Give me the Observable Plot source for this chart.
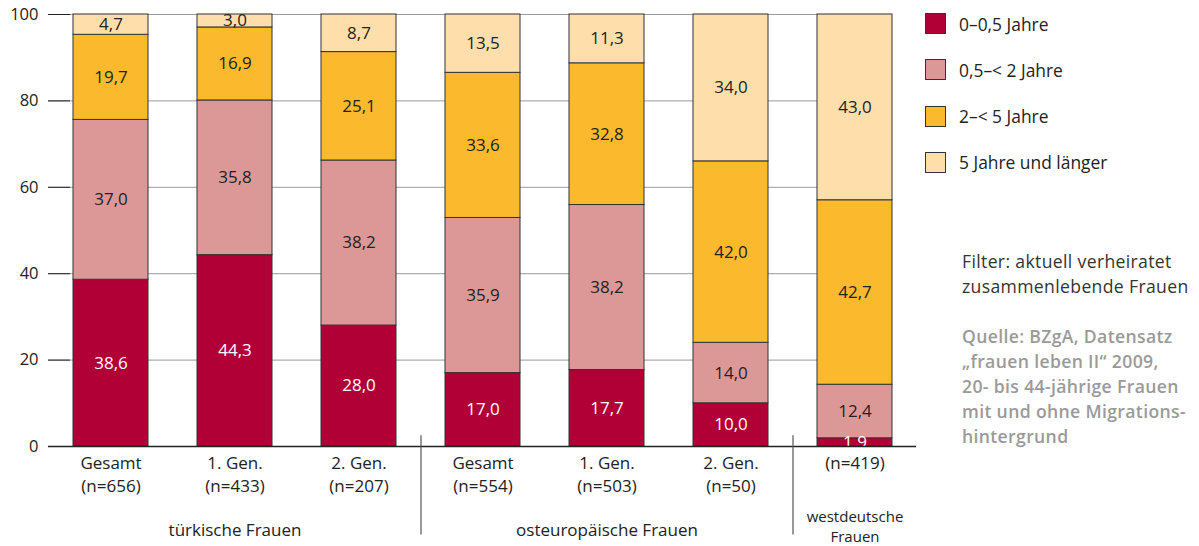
<!DOCTYPE html>
<html lang="de">
<head>
<meta charset="utf-8">
<script src="https://cdn.jsdelivr.net/npm/d3@7"></script>
<script src="https://cdn.jsdelivr.net/npm/@observablehq/plot@0.6"></script>
<style>
  body { margin: 0; background: #fff; font-family: "Open Sans", sans-serif; }
  #wrap { position: relative; width: 1199px; height: 546px; overflow: hidden; }
  #chart { position: absolute; left: 0; top: 0; }
  #legend { position: absolute; left: 925px; top: 12px; }
  .item { display: flex; align-items: center; height: 23px; margin-bottom: 23.3px; font-size: 17.4px; color: #222; white-space: nowrap; }
  .sw { width: 21px; height: 21px; border: 1px solid #333; margin-right: 13px; box-sizing: border-box; }
  #note { position: absolute; left: 962px; top: 249px; font-size: 17.6px; letter-spacing: 0.35px; line-height: 25px; color: #333; white-space: nowrap; }
  #note .src { color: #9a9a9a; font-weight: 600; margin-top: 25px; }
</style>
</head>
<body>
<div id="wrap">
  <div id="chart"></div>
  <div id="legend"></div>
  <div id="note"></div>
</div>
<script>
// Bars (x categories), one per subgroup
const groups = [
  "Gesamt\n(n=656)", "1. Gen.\n(n=433)", "2. Gen.\n(n=207)",
  "Gesamt\n(n=554)", "1. Gen.\n(n=503)", "2. Gen.\n(n=50)",
  "(n=419)"
];
// Duration classes, bottom to top of each stack
const durations = ["0–0,5 Jahre", "0,5–< 2 Jahre", "2–< 5 Jahre", "5 Jahre und länger"];
const colors = ["#b10036", "#dc9896", "#fbb92e", "#fedfab"];

// Shares in percent per duration class, in the order of groups
const share0to05 = [38.6, 44.3, 28.0, 17.0, 17.7, 10.0, 1.9];
const share05to2 = [37.0, 35.8, 38.2, 35.9, 38.2, 14.0, 12.4];
const share2to5  = [19.7, 16.9, 25.1, 33.6, 32.8, 42.0, 42.7];
const share5plus = [4.7, 3.0, 8.7, 13.5, 11.3, 34.0, 43.0];

// Population labels under the bar groups, anchored at a bar
const populations = ["türkische Frauen", "osteuropäische Frauen"];
const populationBars = [groups[1], groups[4]];
const westLabel = "westdeutsche\nFrauen";
// Separator lines follow these bars
const separatorAfter = [groups[2], groups[5]];

const yTicks = [0, 20, 40, 60, 80, 100];

const noteLines = ["Filter: aktuell verheiratet", "zusammenlebende Frauen"];
const sourceLines = ["Quelle: BZgA, Datensatz", "„frauen leben II“ 2009,", "20- bis 44-jährige Frauen", "mit und ohne Migrations-", "hintergrund"];

const seriesValues = [share0to05, share05to2, share2to5, share5plus];
const table = [];
groups.forEach((g, i) => {
  durations.forEach((d, k) => table.push({group: g, duration: d, value: seriesValues[k][i]}));
});
const fmt = v => v.toFixed(1).replace(".", ",");

const popTable = populations.map((p, i) => ({label: p, bar: populationBars[i]}));

const chart = Plot.plot({
  width: 920,
  height: 546,
  marginLeft: 48,
  marginRight: 4,
  marginTop: 14,
  marginBottom: 100,
  style: {fontFamily: "Open Sans, sans-serif", fontSize: "16px", color: "#222", background: "transparent", overflow: "visible"},
  x: {domain: groups, paddingInner: 0.396, paddingOuter: 0.193, axis: null},
  y: {domain: [0, 100], axis: null},
  color: {domain: durations, range: colors},
  marks: [
    Plot.gridY(yTicks.filter(t => t > 0), {stroke: "#9a9a9a", strokeOpacity: 1, insetRight: 24}),
    Plot.gridY(yTicks.filter(t => t > 0), {stroke: "#222", strokeOpacity: 1, insetRight: 846}),
    Plot.axisY(yTicks, {tickSize: 0, tickPadding: 10, line: true, label: null, fontSize: 16.5, stroke: "#222"}),
    Plot.barY(table, Plot.stackY({x: "group", y: "value", fill: "duration", order: durations, stroke: "#333", strokeWidth: 1})),
    Plot.text(table.filter(d => d.duration === durations[0]),
      Plot.stackY({x: "group", y: "value", z: "duration", text: d => fmt(d.value), fill: "white", fontSize: 17})),
    Plot.text(table,
      Plot.stackY({x: "group", y: "value", z: "duration", order: durations,
        text: d => d.duration === durations[0] ? null : fmt(d.value), fill: "#222", fontSize: 17})),
    Plot.ruleY([0], {stroke: "#222", strokeWidth: 1.3}),
    Plot.axisX({tickSize: 0, tickPadding: 6, label: null, lineHeight: 1.35, fontSize: 17, fill: "#222"}),
    Plot.text(popTable, {x: "bar", text: "label", frameAnchor: "bottom", lineAnchor: "middle", dy: 84, fontSize: 17, fill: "#222"}),
    Plot.text([westLabel], {x: () => groups[6], text: d => d, frameAnchor: "bottom", lineAnchor: "middle", dy: 79, fontSize: 15, lineHeight: 1.38, fill: "#222"}),
    Plot.ruleX(separatorAfter, {x: d => d, dx: 62, y1: 2.5, y2: -20.5, stroke: "#555", strokeWidth: 1.2})
  ]
});
document.getElementById("chart").appendChild(chart);

const legend = d3.select("#legend");
durations.forEach((d, i) => {
  const item = legend.append("div").attr("class", "item");
  item.append("div").attr("class", "sw").style("background", colors[i]);
  item.append("span").text(d);
});

const note = d3.select("#note");
note.append("div").selectAll("div").data(noteLines).join("div").text(d => d);
note.append("div").attr("class", "src").selectAll("div").data(sourceLines).join("div").text(d => d);
</script>
</body>
</html>
